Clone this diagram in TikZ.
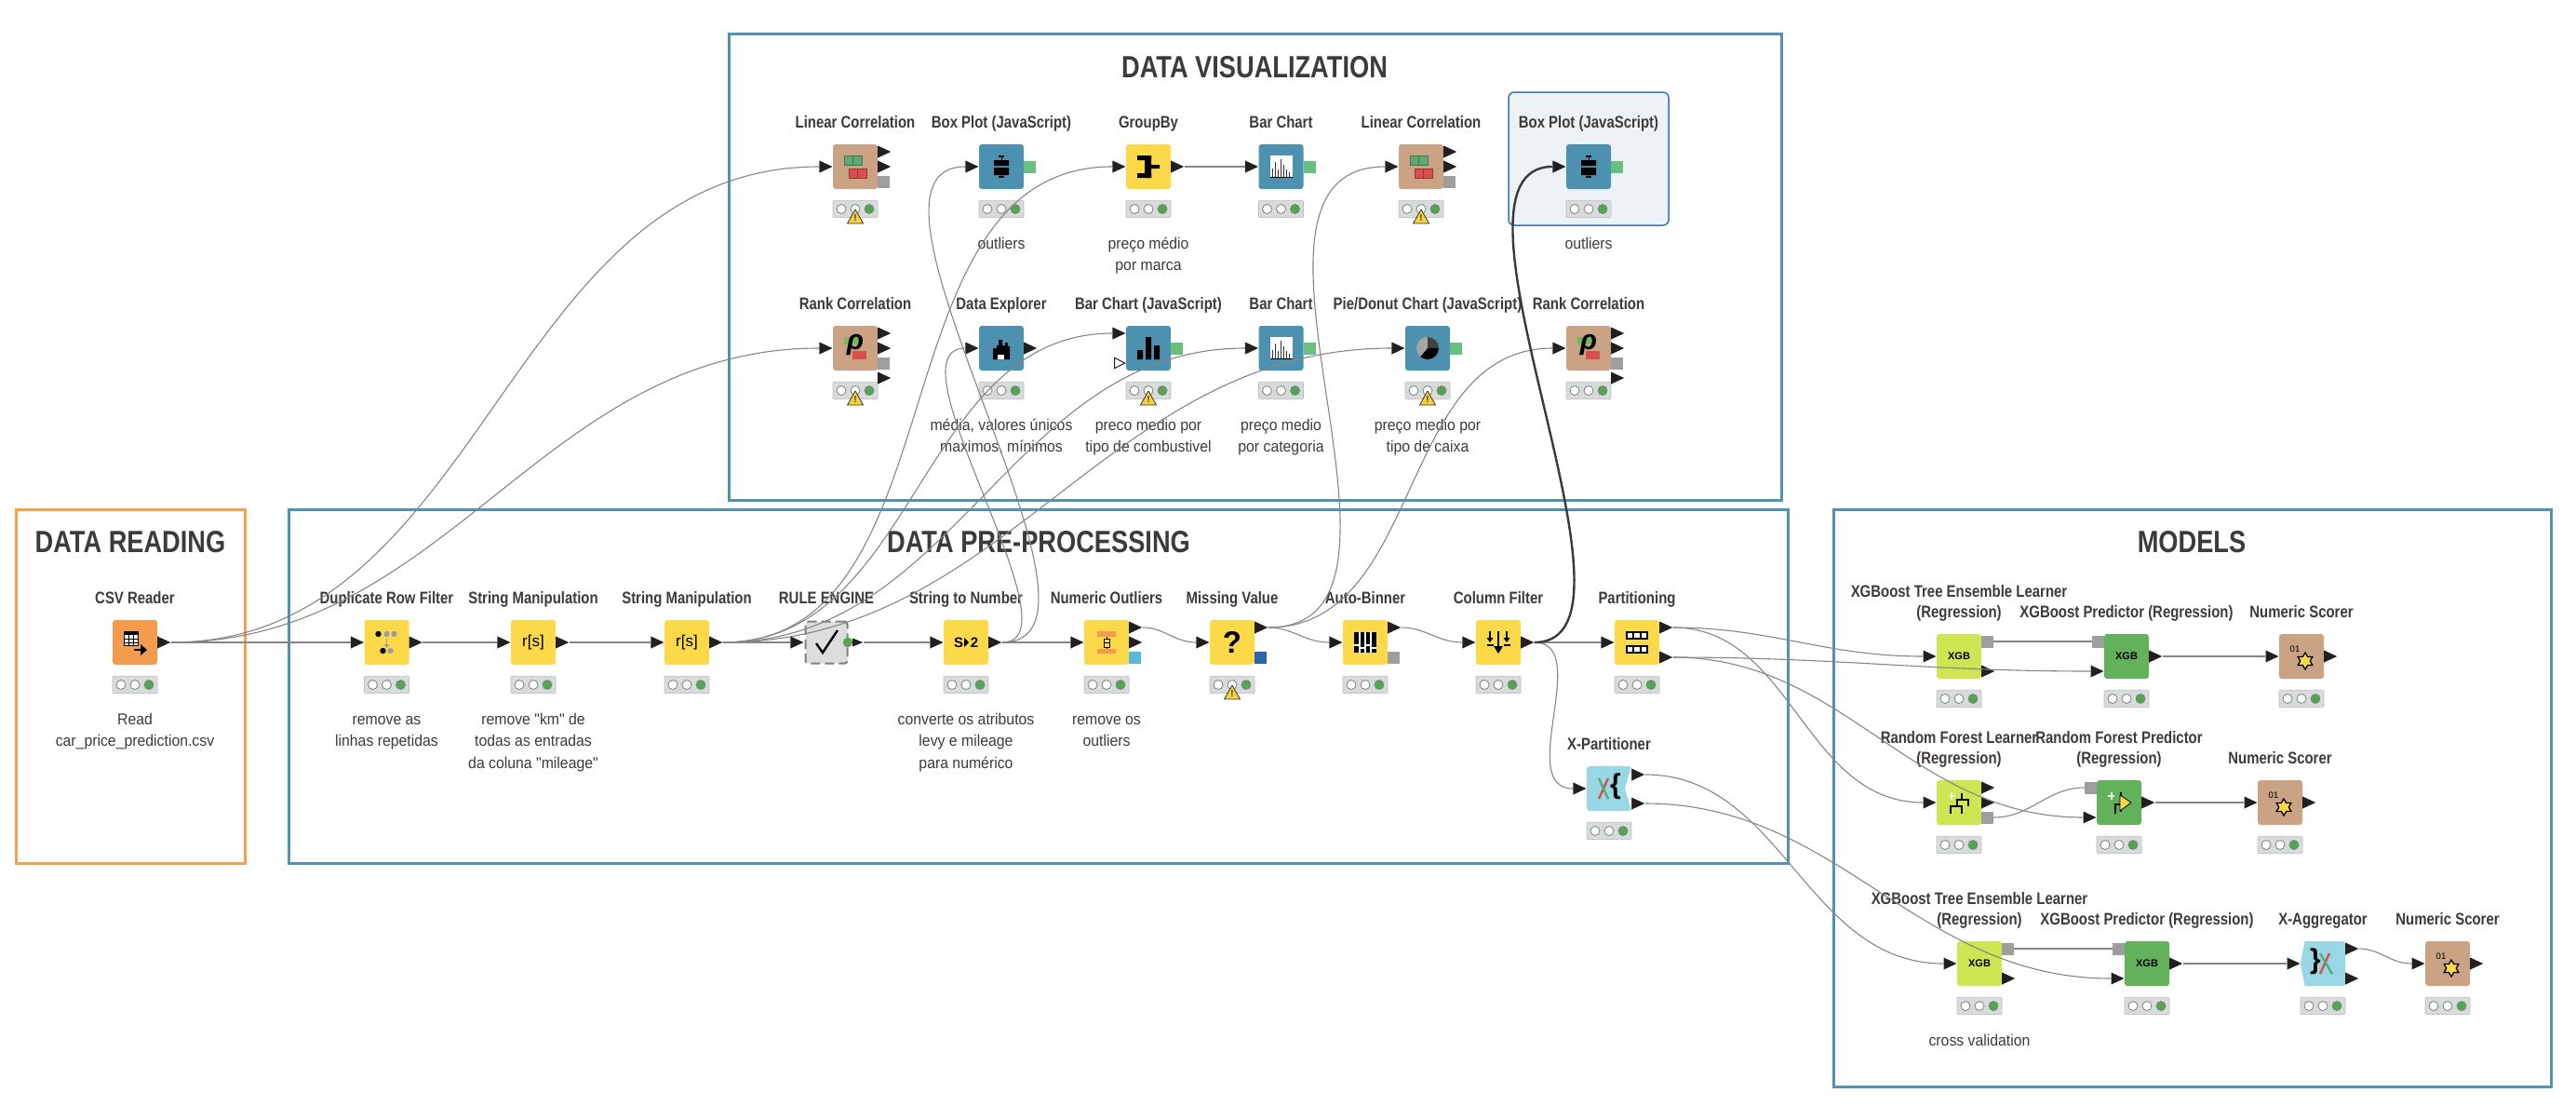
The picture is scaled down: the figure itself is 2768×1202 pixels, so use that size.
\documentclass[tikz,border=0pt]{standalone}
\usepackage{fontspec}
\usetikzlibrary{shapes.geometric}
\setmainfont{Liberation Sans}
\newfontfamily\titlefont[FakeStretch=.83]{Liberation Sans}
\newfontfamily\descfont[FakeStretch=.93]{Liberation Sans}
\newfontfamily\headfont[FakeStretch=.825]{Liberation Sans}

\definecolor{inkgray}{HTML}{3E3A39}
\definecolor{wiregray}{HTML}{858585}
\definecolor{wirebold}{HTML}{3A3A3A}
\definecolor{portblack}{HTML}{231F20}
\definecolor{frameorange}{HTML}{F7A04C}
\definecolor{frameblue}{HTML}{4E93B1}
\definecolor{selfill}{HTML}{EDF2F7}
\definecolor{seldraw}{HTML}{3B74AF}
\definecolor{ioorange}{HTML}{F49C4D}
\definecolor{manipyellow}{HTML}{FBD949}
\definecolor{viewblue}{HTML}{4C91B0}
\definecolor{scoretan}{HTML}{C9A384}
\definecolor{learnlime}{HTML}{CFE551}
\definecolor{predgreen}{HTML}{61B25A}
\definecolor{loopcyan}{HTML}{99D7E5}
\definecolor{rulegray}{HTML}{DCDEDE}
\definecolor{lampbar}{HTML}{D8DBDB}
\definecolor{lampgreen}{HTML}{50A84E}
\definecolor{flowgreen}{HTML}{67BF80}
\definecolor{flowgray}{HTML}{9E9E9E}
\definecolor{flowsky}{HTML}{55B9DD}
\definecolor{flownavy}{HTML}{2B64AE}
\definecolor{corrgreen}{HTML}{5FA777}
\definecolor{corrred}{HTML}{D94F4F}
\definecolor{warnyellow}{HTML}{F7D13D}

% ---- one workflow node: name, x, y, colour, title ----
\newcommand{\knode}[5]{
  \node[body, fill=#4] (#1) at (#2,#3) {};
  \node[ntitle] (#1-t) at ([yshift=41.5pt]#1.center) {#5};
  \node[lampbox] (#1-s) at ([yshift=-45.5pt]#1.center) {};
  \foreach \lx/\lc in {-15/white,0/white,15/lampgreen}
    \draw[lamp, fill=\lc] ([xshift=\lx pt,yshift=-45.5pt]#1.center) circle (5);
}
\newcommand{\kdesc}[2]{
  \node[ndesc] (#1-d) at ([yshift=-74pt]#1.center) {\rule{0pt}{14pt}#2};
}
\newcommand{\kwarn}[1]{
  \begin{scope}[shift={(#1.center)}]
    \filldraw[warnsign] (-8.5,61) -- (8.5,61) -- (0,46) -- cycle;
    \node[font=\bfseries\fontsize{10}{10}\selectfont] (#1-w) at (0,55.5) {!};
  \end{scope}
}
% ---- ports: node, port name, offset ----
\newcommand{\pout}[3]{\node[port, anchor=west] (#1-#2) at ([shift={(24,#3)}]#1.center) {};}
\newcommand{\pin}[3]{\node[port, anchor=apex] (#1-#2) at ([shift={(-24,#3)}]#1.center) {};}
\newcommand{\qout}[4]{\node[sqport, fill=#4, anchor=west] (#1-#2) at ([shift={(24,#3)}]#1.center) {};}
\newcommand{\qin}[4]{\node[sqport, fill=#4, anchor=east] (#1-#2) at ([shift={(-24,#3)}]#1.center) {};}
\newcommand{\kicon}[2]{\begin{scope}[shift={(#1.center)}]\def\iname{#1}#2\end{scope}}

% ---- icons, drawn round the node centre ----
\newcommand{\iconcsv}{
  \filldraw[fill=white, draw=black, line width=1pt] (-12,-12) rectangle (3,3);
  \fill (-12,-12) rectangle (3,-8);
  \foreach \gx in {-7,-2} \draw[line width=.8pt] (\gx,-8) -- (\gx,3);
  \foreach \gy in {-4,0} \draw[line width=.8pt] (-12,\gy) -- (3,\gy);
  \draw[line width=2.6pt] (-1,8) -- (7,8);
  \fill (6,2) -- (13,8) -- (6,14) -- cycle;
}
\newcommand{\icondup}{
  \fill (-9,-9) circle (3.2) (-4,9) circle (3.2);
  \fill[flowgray] (0,-9) circle (3.2) (8,-9) circle (3.2) (4,9) circle (3.2);
  \draw[flowgray, line width=1.5pt] (0,-4) -- (0,5);
  \fill[flowgray] (-3,2) -- (3,2) -- (0,6) -- cycle;
}
\newcommand{\iconrs}{\node[font=\fontsize{17}{17}\selectfont, text=black] (\iname-x) at (0,0) {r[s]};}
\newcommand{\iconcheck}{\draw[line width=2.4pt] (-11,1) -- (-4,11) -- (12,-13);}
\newcommand{\iconstn}{
  \node[font=\bfseries\fontsize{15}{15}\selectfont, text=black] (\iname-a) at (-8,0) {S};
  \node[font=\bfseries\fontsize{15}{15}\selectfont, text=black] (\iname-b) at (9,0) {2};
  \fill (-2,-5) -- (3,0) -- (-2,5) -- cycle;
}
\newcommand{\iconnumout}{
  \fill[ioorange] (-10,-12) rectangle (10,-6) (-10,7) rectangle (10,12);
  \draw[line width=1pt] (0,-6) -- (0,7);
  \filldraw[fill=manipyellow, draw=black, line width=.8pt] (-3,-4) rectangle (3,5);
  \draw[line width=.8pt] (-3,0) -- (3,0);
}
\newcommand{\iconq}{\node[font=\bfseries\fontsize{33}{33}\selectfont, text=black] (\iname-x) at (0,0) {?};}
\newcommand{\iconbinner}{
  \fill (-12,-11) rectangle (12,11);
  \foreach \gx in {-6,0,6} \draw[white, line width=1.2pt] (\gx,-11) -- (\gx,11);
  \foreach \gx/\gy in {-9/3,-3/6,3/3,9/6} \draw[white, line width=1.2pt] (\gx-3,\gy) -- (\gx+3,\gy);
}
\newcommand{\iconfilter}{
  \draw[line width=1.6pt] (0,-12) -- (0,6);
  \fill (-5,4) -- (5,4) -- (0,12) -- cycle;
  \foreach \gx in {-9,9} {
    \draw[line width=1.4pt] (\gx,-12) -- (\gx,-4);
    \fill (\gx-3.5,-5) -- (\gx+3.5,-5) -- (\gx,0) -- cycle;
    \draw[line width=1.4pt] (\gx-3.5,3) -- (\gx+3.5,3);
  }
}
\newcommand{\iconpart}{
  \foreach \gy in {-11,4} {
    \filldraw[fill=white, draw=black, line width=1.5pt] (-11,\gy) rectangle (11,\gy+7);
    \draw[line width=1.2pt] (-4,\gy) -- (-4,\gy+7) (4,\gy) -- (4,\gy+7);
    \draw[line width=2pt] (-11,\gy) -- (11,\gy);
  }
}
\newcommand{\iconxpart}{
  \fill[white] (24.2,-24.2) -- (24.2,24.2) -- (17,0) -- cycle;
  \draw[corrred, line width=2.4pt] (-11,11) -- (-1,-11);
  \draw[corrgreen, line width=2.4pt] (-11,-11) -- (-1,11);
  \node[font=\bfseries\fontsize{30}{30}\selectfont, text=black] (\iname-x) at (7,-2) {\{};
}
\newcommand{\iconagg}{
  \fill[white] (-24.2,-24.2) -- (-19.5,-24.2) -- (-24.2,0) -- cycle;
  \fill[white] (-24.2,24.2) -- (-19.5,24.2) -- (-24.2,0) -- cycle;
  \draw[corrred, line width=2.4pt] (-3,11) -- (7,-11);
  \draw[corrgreen, line width=2.4pt] (-3,-11) -- (10,11);
  \node[font=\bfseries\fontsize{30}{30}\selectfont, text=black] (\iname-x) at (-8,-2) {\}};
}
\newcommand{\iconxgb}{\node[font=\bfseries\fontsize{11}{11}\selectfont, text=black] (\iname-x) at (0,0) {XGB};}
\newcommand{\icontree}{
  \draw[white!85!gray, line width=2pt] (-11,-7) -- (-4,-7) (-8,-11) -- (-8,-3);
  \draw[line width=2.4pt] (3,-10) -- (3,-3) (-2,3) -- (-2,-3) -- (10,-3) -- (10,4);
  \draw[line width=2.4pt] (-9,12) -- (-9,4) -- (3,4) -- (3,12);
}
\newcommand{\iconrfpred}{
  \draw[white!85!gray, line width=2pt] (-12,-7) -- (-5,-7) (-8,-11) -- (-8,-3);
  \draw[line width=2.4pt] (2,-11) -- (2,-4) (-4,12) -- (-4,2) -- (2,2) -- (2,10);
  \filldraw[fill=manipyellow, draw=black, line width=.8pt] (1,-8) -- (13,0) -- (1,9) -- cycle;
}
\newcommand{\iconscore}{
  \node[font=\fontsize{9.5}{9.5}\selectfont, text=black] (\iname-x) at (-7,-8) {01};
  \node[star, star points=6, star point ratio=1.7, minimum size=18pt, inner sep=0pt,
    fill=manipyellow, draw=black, line width=1.3pt] (\iname-y) at (4,5) {};
}
\newcommand{\iconcorr}{
  \filldraw[fill=corrgreen, draw=corrgreen!70!black, line width=1pt] (-12,-12) rectangle (7,-2);
  \draw[corrgreen!70!black, line width=1pt] (-2.5,-12) -- (-2.5,-2);
  \filldraw[fill=corrred, draw=corrred!70!black, line width=1pt] (-7,2) rectangle (12,12);
  \draw[corrred!70!black, line width=1pt] (2.5,2) -- (2.5,12);
}
\newcommand{\iconrank}{
  \fill[corrgreen!80!lime] (-12,-12) rectangle (4,-4);
  \fill[corrred] (-3,3) rectangle (12,12);
  \node[font=\bfseries\itshape\fontsize{30}{30}\selectfont, text=black] (\iname-x) at (0,-3) {ρ};
}
\newcommand{\iconbox}{
  \fill (-8,-7) rectangle (8,-1) (-8,1) rectangle (8,9);
  \draw[line width=1.2pt] (-3,-11) -- (3,-11) (-3,11) -- (3,11);
  \draw[line width=1pt] (0,-11) -- (0,-7) (0,9) -- (0,11);
}
\newcommand{\icongroup}{
  \fill (-12,-12) rectangle (3,-7) (-12,7) rectangle (3,12);
  \fill (-4,-12) rectangle (3,12) (3,-2) rectangle (12,2);
}
\newcommand{\iconbar}{
  \fill[white] (-12,-12) rectangle (12,12);
  \foreach \gx/\gy in {-9/2,-6/-5,-3/3,0/-8,3/-2,6/3,9/6}
    \draw[black!80, line width=1.1pt] (\gx,11) -- (\gx,\gy);
  \draw[black, line width=1.4pt] (-12,11.5) -- (12,11.5);
}
\newcommand{\iconbarjs}{\fill (-12,2) rectangle (-6,12) (-3,-12) rectangle (3,12) (6,-3) rectangle (12,12);}
\newcommand{\iconexplorer}{
  \fill (-9,0) -- (-5,0) -- (-5,-3) -- (-3,-3) -- (-3,-9) -- (1,-9) -- (1,-3) -- (4,-3) -- (4,-6)
    -- (7,-6) -- (7,-2) -- (9,-2) -- (9,12) -- (-9,12) -- cycle;
  \fill[white] (-4,7) rectangle (3,12);
}
\newcommand{\iconpie}{
  \fill[black!35] (0,0) circle (12);
  \fill[black!75] (0,0) -- (0,-12) arc (-90:0:12) -- cycle;
  \fill[black] (0,0) -- (12,0) arc (0:130:12) -- cycle;
}

\begin{document}
\begin{tikzpicture}[
  x=1pt, y=-1pt,
  every node/.style = {text=inkgray},
  frame/.style   = {line width=3pt},
  head/.style    = {anchor=base, inner sep=0pt, font=\headfont\bfseries\fontsize{33}{33}\selectfont},
  body/.style    = {rectangle, rounded corners=3pt, minimum size=48pt, inner sep=0pt},
  ntitle/.style  = {anchor=south, align=center, inner sep=0pt, text depth=0pt,
                    font=\titlefont\bfseries\fontsize{18}{22}\selectfont},
  ndesc/.style   = {anchor=north, align=center, inner sep=0pt,
                    font=\descfont\fontsize{17}{23.5}\selectfont},
  lampbox/.style = {rectangle, rounded corners=1pt, minimum width=48pt, minimum height=18.5pt,
                    inner sep=0pt, fill=lampbar, draw=lampbar!88!black, line width=.6pt},
  lamp/.style    = {draw=black!50, line width=.8pt},
  port/.style    = {isosceles triangle, isosceles triangle stretches, inner sep=0pt,
                    minimum width=13pt, minimum height=14pt, fill=portblack},
  sqport/.style  = {rectangle, minimum size=13pt, inner sep=0pt},
  warnsign/.style= {fill=warnyellow, draw=black!80, line width=.8pt, line join=round},
  wire/.style    = {draw=wiregray, line width=1.1pt, out=0, in=180},
  line/.style    = {draw=wiregray, line width=1.3pt},
  boldwire/.style= {draw=wirebold, line width=2.4pt, out=0, in=180}
]
\useasboundingbox (0,0) rectangle (2768,1202);

% ---- frames ----
\draw[frame, draw=frameorange] (17,547) rectangle (263,927);
\draw[frame, draw=frameblue] (310,547) rectangle (1921,927);
\draw[frame, draw=frameblue] (783,36) rectangle (1914,537);
\draw[frame, draw=frameblue] (1970,547) rectangle (2741,1167);
\node[head] (h-read) at (140,593) {DATA READING};
\node[head] (h-pre) at (1116,593) {DATA PRE-PROCESSING};
\node[head] (h-vis) at (1348,83) {DATA VISUALIZATION};
\node[head] (h-mod) at (2355,593) {MODELS};
\draw[fill=selfill, draw=seldraw, line width=1.5pt, rounded corners=6pt] (1621,99) rectangle (1793,242);

% ---- data reading and pre-processing ----
\knode{csv}{145}{690}{ioorange}{CSV Reader}
\kdesc{csv}{Read\\car\_price\_prediction.csv}
\pout{csv}{o}{0}
\knode{dup}{415.5}{690}{manipyellow}{Duplicate Row Filter}
\kdesc{dup}{remove as\\linhas repetidas}
\pin{dup}{i}{0} \pout{dup}{o}{0}
\knode{sma}{573}{690}{manipyellow}{String Manipulation}
\kdesc{sma}{remove "km" de\\todas as entradas\\da coluna "mileage"}
\pin{sma}{i}{0} \pout{sma}{o}{0}
\knode{smb}{738}{690}{manipyellow}{String Manipulation}
\pin{smb}{i}{0} \pout{smb}{o}{0}

\node[body, fill=rulegray, draw=black!50, line width=2pt, dashed, dash pattern=on 10pt off 5pt,
  minimum size=45pt] (rule) at (888,690) {};
\node[ntitle] (rule-t) at ([yshift=41.5pt]rule.center) {RULE ENGINE};
\pin{rule}{i}{0}
\node[port, anchor=west, minimum width=9pt, minimum height=11pt] (rule-o) at ([xshift=28pt]rule.center) {};
\node[circle, fill=lampgreen, draw=black!50, minimum size=10pt, inner sep=0pt] (rule-l) at ([xshift=23pt]rule.center) {};

\knode{stn}{1038}{690}{manipyellow}{String to Number}
\kdesc{stn}{converte os atributos\\levy e mileage\\para numérico}
\pin{stn}{i}{0} \pout{stn}{o}{0}
\knode{nout}{1189}{690}{manipyellow}{Numeric Outliers}
\kdesc{nout}{remove os\\outliers}
\pin{nout}{i}{0} \pout{nout}{a}{-16} \pout{nout}{b}{0} \qout{nout}{c}{16}{flowsky}
\knode{miss}{1324}{690}{manipyellow}{Missing Value}
\kwarn{miss}
\pin{miss}{i}{0} \pout{miss}{o}{-16} \qout{miss}{c}{16}{flownavy}
\knode{abin}{1467}{690}{manipyellow}{Auto-Binner}
\pin{abin}{i}{0} \pout{abin}{o}{-16} \qout{abin}{c}{16}{flowgray}
\knode{cfil}{1610}{690}{manipyellow}{Column Filter}
\pin{cfil}{i}{0} \pout{cfil}{o}{0}
\knode{part}{1759}{690}{manipyellow}{Partitioning}
\pin{part}{i}{0} \pout{part}{a}{-16} \pout{part}{b}{16}
\knode{xpar}{1729}{847}{loopcyan}{X-Partitioner}
\pin{xpar}{i}{0} \pout{xpar}{a}{-15} \pout{xpar}{b}{16}

% ---- data visualization ----
\knode{lca}{919}{179}{scoretan}{Linear Correlation}
\kwarn{lca}
\pin{lca}{i}{0} \pout{lca}{a}{-16} \pout{lca}{b}{0} \qout{lca}{c}{16}{flowgray}
\knode{boxa}{1076}{179}{viewblue}{Box Plot (JavaScript)}
\kdesc{boxa}{outliers}
\pin{boxa}{i}{0} \qout{boxa}{c}{0}{flowgreen}
\knode{grp}{1234}{179}{manipyellow}{GroupBy}
\kdesc{grp}{preço médio\\por marca}
\pin{grp}{i}{0} \pout{grp}{o}{0}
\knode{bara}{1376.5}{179}{viewblue}{Bar Chart}
\pin{bara}{i}{0} \qout{bara}{c}{0}{flowgreen}
\knode{lcb}{1527}{179}{scoretan}{Linear Correlation}
\kwarn{lcb}
\pin{lcb}{i}{0} \pout{lcb}{a}{-16} \pout{lcb}{b}{0} \qout{lcb}{c}{16}{flowgray}
\knode{boxb}{1707}{179}{viewblue}{Box Plot (JavaScript)}
\kdesc{boxb}{outliers}
\pin{boxb}{i}{0} \qout{boxb}{c}{0}{flowgreen}

\knode{rka}{919}{374}{scoretan}{Rank Correlation}
\kwarn{rka}
\pin{rka}{i}{0} \pout{rka}{a}{-16} \pout{rka}{b}{0} \qout{rka}{c}{16}{flowgray} \pout{rka}{d}{32}
\knode{expl}{1076}{374}{viewblue}{Data Explorer}
\kdesc{expl}{média, valores únicos\\maximos, mínimos}
\pin{expl}{i}{0} \pout{expl}{o}{0}
\knode{bjs}{1234}{374}{viewblue}{Bar Chart (JavaScript)}
\kwarn{bjs}
\kdesc{bjs}{preco medio por\\tipo de combustivel}
\pin{bjs}{i}{-16} \qout{bjs}{c}{0}{flowgreen}
\node[port, anchor=apex, fill=white, draw=portblack, line width=1pt, minimum width=11pt, minimum height=11pt]
  (bjs-e) at ([shift={(-24,16)}]bjs.center) {};
\knode{barb}{1376.5}{374}{viewblue}{Bar Chart}
\kdesc{barb}{preço medio\\por categoria}
\pin{barb}{i}{0} \qout{barb}{c}{0}{flowgreen}
\knode{pie}{1534}{374}{viewblue}{Pie/Donut Chart (JavaScript)}
\kwarn{pie}
\kdesc{pie}{preço medio por\\tipo de caixa}
\pin{pie}{i}{0} \qout{pie}{c}{0}{flowgreen}
\knode{rkb}{1707}{374}{scoretan}{Rank Correlation}
\pin{rkb}{i}{0} \pout{rkb}{a}{-16} \pout{rkb}{b}{0} \qout{rkb}{c}{16}{flowgray} \pout{rkb}{d}{32}

% ---- models ----
\knode{xla}{2105}{705}{learnlime}{XGBoost Tree Ensemble Learner\\(Regression)}
\pin{xla}{i}{0} \qout{xla}{m}{-16}{flowgray} \pout{xla}{o}{16}
\knode{xpa}{2285}{705}{predgreen}{XGBoost Predictor (Regression)}
\qin{xpa}{m}{-16}{flowgray} \pin{xpa}{i}{16} \pout{xpa}{o}{0}
\knode{sca}{2473}{705}{scoretan}{Numeric Scorer}
\pin{sca}{i}{0} \pout{sca}{o}{0}

\knode{rfl}{2105}{862}{learnlime}{Random Forest Learner\\(Regression)}
\pin{rfl}{i}{0} \pout{rfl}{a}{-16} \pout{rfl}{b}{0} \qout{rfl}{m}{16}{flowgray}
\knode{rfp}{2277}{862}{predgreen}{Random Forest Predictor\\(Regression)}
\qin{rfp}{m}{-16}{flowgray} \pin{rfp}{i}{16} \pout{rfp}{o}{0}
\knode{scb}{2450}{862}{scoretan}{Numeric Scorer}
\pin{scb}{i}{0} \pout{scb}{o}{0}

\knode{xlc}{2127}{1035}{learnlime}{XGBoost Tree Ensemble Learner\\(Regression)}
\kdesc{xlc}{cross validation}
\pin{xlc}{i}{0} \qout{xlc}{m}{-16}{flowgray} \pout{xlc}{o}{16}
\knode{xpc}{2307}{1035}{predgreen}{XGBoost Predictor (Regression)}
\qin{xpc}{m}{-16}{flowgray} \pin{xpc}{i}{16} \pout{xpc}{o}{0}
\knode{xagg}{2496}{1035}{loopcyan}{X-Aggregator}
\pin{xagg}{i}{0} \pout{xagg}{a}{-16} \pout{xagg}{b}{16}
\knode{scc}{2630}{1035}{scoretan}{Numeric Scorer}
\pin{scc}{i}{0} \pout{scc}{o}{0}

% ---- icons ----
\kicon{csv}{\iconcsv}
\kicon{dup}{\icondup}
\kicon{sma}{\iconrs}
\kicon{smb}{\iconrs}
\kicon{rule}{\iconcheck}
\kicon{stn}{\iconstn}
\kicon{nout}{\iconnumout}
\kicon{miss}{\iconq}
\kicon{abin}{\iconbinner}
\kicon{cfil}{\iconfilter}
\kicon{part}{\iconpart}
\kicon{xpar}{\iconxpart}
\kicon{lca}{\iconcorr}
\kicon{lcb}{\iconcorr}
\kicon{rka}{\iconrank}
\kicon{rkb}{\iconrank}
\kicon{boxa}{\iconbox}
\kicon{boxb}{\iconbox}
\kicon{grp}{\icongroup}
\kicon{bara}{\iconbar}
\kicon{barb}{\iconbar}
\kicon{expl}{\iconexplorer}
\kicon{bjs}{\iconbarjs}
\kicon{pie}{\iconpie}
\kicon{xla}{\iconxgb}
\kicon{xpa}{\iconxgb}
\kicon{xlc}{\iconxgb}
\kicon{xpc}{\iconxgb}
\kicon{rfl}{\icontree}
\kicon{rfp}{\iconrfpred}
\kicon{sca}{\iconscore}
\kicon{scb}{\iconscore}
\kicon{scc}{\iconscore}
\kicon{xagg}{\iconagg}

% ---- straight connectors ----
\draw[line] (csv-o.apex) -- (dup-i.west);
\draw[line] (dup-o.apex) -- (sma-i.west);
\draw[line] (sma-o.apex) -- (smb-i.west);
\draw[line] (smb-o.apex) -- (rule-i.west);
\draw[line] (rule-o.apex) -- (stn-i.west);
\draw[line] (stn-o.apex) -- (nout-i.west);
\draw[line] (cfil-o.apex) -- (part-i.west);
\draw[line] (grp-o.apex) -- (bara-i.west);
\draw[line] (xla-m.east) -- (xpa-m.west);
\draw[line] (xpa-o.apex) -- (sca-i.west);
\draw[line] (rfp-o.apex) -- (scb-i.west);
\draw[line] (xlc-m.east) -- (xpc-m.west);
\draw[line] (xpc-o.apex) -- (xagg-i.west);

% ---- curved connectors ----
\draw[wire] (csv-o.apex) to (lca-i.west);
\draw[wire] (csv-o.apex) to (rka-i.west);
\draw[wire] (smb-o.apex) to (grp-i.west);
\draw[wire] (smb-o.apex) to (bjs-i.west);
\draw[wire] (smb-o.apex) to (barb-i.west);
\draw[wire] (smb-o.apex) to (pie-i.west);
\draw[wire, looseness=.75] (stn-o.apex) to (boxa-i.west);
\draw[wire, looseness=.7] (stn-o.apex) to (expl-i.west);
\draw[wire] (nout-a.apex) to (miss-i.west);
\draw[wire] (miss-o.apex) to (abin-i.west);
\draw[wire] (miss-o.apex) to (lcb-i.west);
\draw[wire] (miss-o.apex) to (rkb-i.west);
\draw[wire] (abin-o.apex) to (cfil-i.west);
\draw[wire] (cfil-o.apex) to (xpar-i.west);
\draw[wire] (part-a.apex) to (xla-i.west);
\draw[wire] (part-a.apex) to (rfl-i.west);
\draw[wire] (part-b.apex) to (xpa-i.west);
\draw[wire] (part-b.apex) to (rfp-i.west);
\draw[wire] (xpar-a.apex) to (xlc-i.west);
\draw[wire] (xpar-b.apex) to (xpc-i.west);
\draw[wire] (rfl-m.east) to (rfp-m.west);
\draw[wire] (xagg-a.apex) to (scc-i.west);
\draw[boldwire, looseness=.7] (cfil-o.apex) to (boxb-i.west);

\end{tikzpicture}
\end{document}
